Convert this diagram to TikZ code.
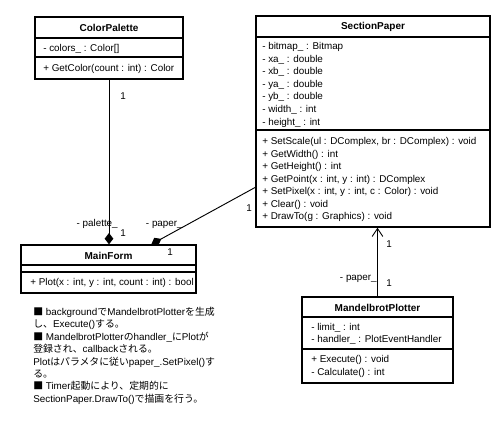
\documentclass[tikz,border=0pt]{standalone}
\usepackage{fontspec}
\setmainfont{Liberation Sans}
\newfontfamily\jpfont{Noto Sans CJK JP}
\newcommand{\jp}[1]{{\jpfont #1}}
\usetikzlibrary{arrows.meta, positioning, calc}
\tikzset{
  box/.style={draw, line width=1pt, inner sep=0pt},
  ttl/.style={inner sep=0pt, font=\bfseries\fontsize{7.5}{9}\selectfont},
  mem/.style={anchor=west, inner sep=0pt, text height=6pt, text depth=1.5pt, font=\fontsize{7.4}{9}\selectfont},
  lbl/.style={inner sep=0pt, text height=6pt, text depth=1.5pt, font=\fontsize{7.4}{9}\selectfont},
  link/.style={line width=0.7pt},
  comp/.style={link, {Diamond[length=8.5pt, width=6.5pt]}-},
  nav/.style={link, -{Straight Barb[length=6pt, width=8pt]}}
}
\begin{document}
\begin{tikzpicture}[x=0.75pt, y=-0.75pt]
\useasboundingbox (0, 0) rectangle (500, 422);
% ColorPalette
\node[box, minimum width=111pt, minimum height=46.5pt] at (109, 48) (cp) {};
\draw[box] (35, 38) -- (183, 38);
\draw[box] (35, 57) -- (183, 57);
\node[ttl] at (109, 27.5) (cpT) {ColorPalette};
\node[mem] at (43, 48) (cpA) {- colors\_ : Color[]};
\node[mem] at (43, 68) (cpM) {+ GetColor(count : int) : Color};
% SectionPaper
\node[box, minimum width=175.5pt, minimum height=158.25pt] at (373, 121.5) (sp) {};
\draw[box] (256, 37) -- (490, 37);
\draw[box] (256, 130) -- (490, 130);
\node[ttl] at (373, 26.5) (spT) {SectionPaper};
\foreach \t [count=\i] in {- bitmap\_ : Bitmap, - xa\_ : double, - xb\_ : double, - ya\_ : double, - yb\_ : double, - width\_ : int, - height\_ : int}{
  \node[mem] at (262, 46.7 + 12.55*\i - 12.55) (spA\i) {\t};}
\foreach \t [count=\i] in {{+ SetScale(ul : DComplex, br : DComplex) : void}, + GetWidth() : int, + GetHeight() : int, {+ GetPoint(x : int, y : int) : DComplex}, {+ SetPixel(x : int, y : int, c : Color) : void}, + Clear() : void, + DrawTo(g : Graphics) : void}{
  \node[mem] at (262, 141.7 + 12.5*\i - 12.5) (spM\i) {\t};}
% MainForm
\node[box, minimum width=131.25pt, minimum height=36pt] at (108.5, 269) (mf) {};
\draw[box] (21, 265) -- (196, 265);
\draw[box] (21, 272) -- (196, 272);
\node[ttl] at (108.5, 256) (mfT) {MainForm};
\node[mem] at (30, 282) (mfM) {+ Plot(x : int, y : int, count : int) : bool};
% MandelbrotPlotter
\node[box, minimum width=113.25pt, minimum height=64.5pt] at (377.5, 340) (mp) {};
\draw[box] (302, 317) -- (453, 317);
\draw[box] (302, 349) -- (453, 349);
\node[ttl] at (377.5, 308) (mpT) {MandelbrotPlotter};
\node[mem] at (311, 327) (mpA1) {- limit\_ : int};
\node[mem] at (311, 339) (mpA2) {- handler\_ : PlotEventHandler};
\node[mem] at (311, 359) (mpM1) {+ Execute() : void};
\node[mem] at (311, 372) (mpM2) {- Calculate() : int};
% connectors
\coordinate (mfP) at ($(mf.north west) + (131, 0)$);
\coordinate (spL) at ($(sp.north west) + (0, 172)$);
\draw[comp] (mf.north -| cp.south) -- (cp.south);
\draw[comp] (mfP) -- (spL);
\draw[nav] (mp.north) -- (mp.north |- sp.south);
\node[lbl] at (123, 96) (l1) {1};
\node[lbl, anchor=east] at (118, 223) (l2) {- palette\_};
\node[lbl] at (123, 233) (l3) {1};
\node[lbl] at (249, 208) (l4) {1};
\node[lbl, anchor=east] at (183, 223) (l5) {- paper\_};
\node[lbl] at (170, 252) (l6) {1};
\node[lbl] at (389, 244) (l7) {1};
\node[lbl, anchor=east] at (377, 277) (l8) {- paper\_};
\node[lbl] at (389, 283) (l9) {1};
% note
\node[anchor=north west, align=left, inner sep=0pt, font=\fontsize{7.4}{9.3}\selectfont] at (33, 307) (nt) {
\jp{■} background\jp{で}MandelbrotPlotter\jp{を生成}\\
\jp{し、}Execute()\jp{する。}\\
\jp{■} MandelbrotPlotter\jp{の}handler\_\jp{に}Plot\jp{が}\\
\jp{登録され、}callback\jp{される。}\\
Plot\jp{はパラメタに従い}paper\_.SetPixel()\jp{す}\\
\jp{る。}\\
\jp{■} Timer\jp{起動により、定期的に}\\
SectionPaper.DrawTo()\jp{で描画を行う。}};
\end{tikzpicture}
\end{document}
